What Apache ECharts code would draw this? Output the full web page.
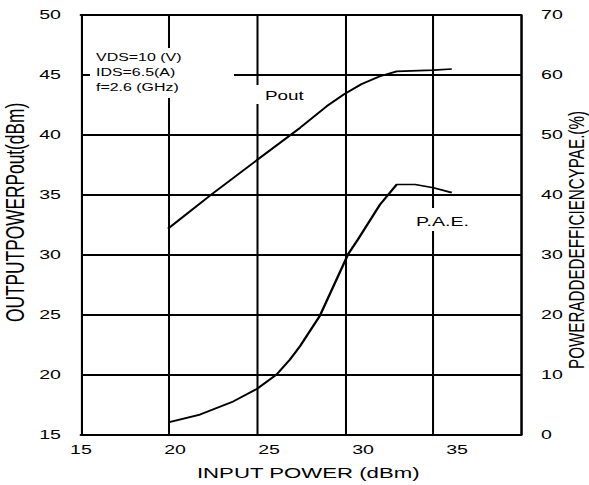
<!DOCTYPE html>
<html>
<head>
<meta charset="utf-8">
<script src="https://cdn.jsdelivr.net/npm/echarts@6/dist/echarts.min.js"></script>
<style>
html, body { margin: 0; padding: 0; background: #fff; overflow: hidden; }
/* the reference is stretched sideways, so draw narrow and scale in x */
#chart { width: 406px; height: 485px; transform: scaleX(1.4507); transform-origin: 0 0; }
</style>
</head>
<body>
<div id="chart"></div>
<script>
var S = 589 / 406;
var FONT = '"Liberation Sans", Arial, sans-serif';

// Pout (dBm) vs input power (dBm)
var poutIn = [19.63, 21.9, 24.35, 26.65, 28.07, 29.0, 29.93, 30.9, 31.79, 33.74, 34.72];
var poutVal = [32.2, 35.0, 37.9, 40.6, 42.4, 43.4, 44.25, 44.9, 45.3, 45.4, 45.5];

// P.A.E. (%) vs input power (dBm)
var paeIn = [19.64, 21.33, 23.1, 24.36, 25.41, 26.12, 26.65, 27.71, 29.2, 29.73, 30.9, 31.79, 32.77, 33.74, 34.72];
var paeVal = [2.1, 3.4, 5.6, 7.7, 10.1, 12.6, 14.8, 19.9, 30.1, 32.6, 38.4, 41.75, 41.75, 41.2, 40.4];

var notes = ['VDS=10 (V)', 'IDS=6.5(A)', 'f=2.6 (GHz)'];

function pairs(xs, ys) {
    return xs.map(function (x, i) { return [x, ys[i]]; });
}

var myChart = echarts.init(document.getElementById('chart'), null, { renderer: 'svg' });

option = {
    backgroundColor: '#fff',
    animation: false,
    grid: { left: 81 / S, right: 406 - 521 / S, top: 15, bottom: 49.5 },
    xAxis: [
        {
            type: 'value', min: 15, max: 38.4, interval: 5, position: 'bottom',
            axisLine: { show: true, onZero: false, lineStyle: { color: '#000', width: 2 } },
            axisTick: { show: false },
            splitLine: { show: false },
            axisLabel: { color: '#000', fontSize: 13.5, fontFamily: FONT, margin: 8, showMaxLabel: false },
            name: 'INPUT POWER (dBm)',
            nameLocation: 'middle',
            nameGap: 30,
            nameTextStyle: { color: '#000', fontSize: 15.3, fontFamily: FONT, padding: [0, 0, 0, 10] }
        },
        {
            // only for the even grid columns and the top border
            type: 'value', min: 0, max: 5, interval: 1, position: 'top',
            axisLine: { show: true, onZero: false, lineStyle: { color: '#000', width: 2 } },
            axisTick: { show: false },
            axisLabel: { show: false },
            splitLine: { show: true, lineStyle: { color: '#000', width: 1.4 } }
        }
    ],
    yAxis: [
        {
            type: 'value', min: 15, max: 50, interval: 5, position: 'left',
            axisLine: { show: true, onZero: false, lineStyle: { color: '#000', width: 1.4 } },
            axisTick: { show: false },
            splitLine: { show: true, lineStyle: { color: '#000', width: 2 } },
            axisLabel: { color: '#000', fontSize: 13.5, fontFamily: FONT, margin: 13.8 }
        },
        {
            type: 'value', min: 0, max: 70, interval: 10, position: 'right',
            axisLine: { show: true, onZero: false, lineStyle: { color: '#000', width: 1.4 } },
            axisTick: { show: false },
            splitLine: { show: false },
            axisLabel: { color: '#000', fontSize: 13.5, fontFamily: FONT, margin: 13.8 }
        }
    ],
    graphic: [
        {
            type: 'text', x: 15 / S, y: 212.4, rotation: Math.PI / 2,
            style: { text: 'OUTPUTPOWERPout(dBm)', font: '17.3px ' + FONT, fill: '#000',
                     textAlign: 'center', textVerticalAlign: 'middle' }
        },
        {
            type: 'text', x: 576 / S, y: 240, rotation: Math.PI / 2,
            style: { text: 'POWERADDEDEFFICIENCYPAE.(%)', font: '15.2px ' + FONT, fill: '#000',
                     textAlign: 'center', textVerticalAlign: 'middle' }
        },
        { type: 'rect', z: 100, shape: { x: 90 / S, y: 48, width: 144 / S, height: 50 }, style: { fill: '#fff' } },
        {
            type: 'text', z: 101, x: 96 / S, y: 49.5,
            style: { text: notes.join('\n'), font: '11px ' + FONT, lineHeight: 15, fill: '#000',
                     textAlign: 'left', textVerticalAlign: 'top' }
        },
        { type: 'rect', z: 100, shape: { x: 250 / S, y: 85, width: 62 / S, height: 19 }, style: { fill: '#fff' } },
        {
            type: 'text', z: 101, x: 265 / S, y: 95,
            style: { text: 'Pout', font: '13px ' + FONT, fill: '#000', textAlign: 'left', textVerticalAlign: 'middle' }
        },
        { type: 'rect', z: 100, shape: { x: 410 / S, y: 208, width: 68 / S, height: 23 }, style: { fill: '#fff' } },
        {
            type: 'text', z: 101, x: 416 / S, y: 221.7,
            style: { text: 'P.A.E.', font: '13.5px ' + FONT, fill: '#000', textAlign: 'left', textVerticalAlign: 'middle' }
        }
    ],
    series: [
        {
            name: 'Pout', type: 'line', xAxisIndex: 0, yAxisIndex: 0,
            data: pairs(poutIn, poutVal),
            showSymbol: false, lineStyle: { color: '#000', width: 1.7 }
        },
        {
            name: 'P.A.E.', type: 'line', xAxisIndex: 0, yAxisIndex: 1,
            data: pairs(paeIn, paeVal),
            showSymbol: false, lineStyle: { color: '#000', width: 1.7 }
        }
    ]
};

myChart.setOption(option);
</script>
</body>
</html>
